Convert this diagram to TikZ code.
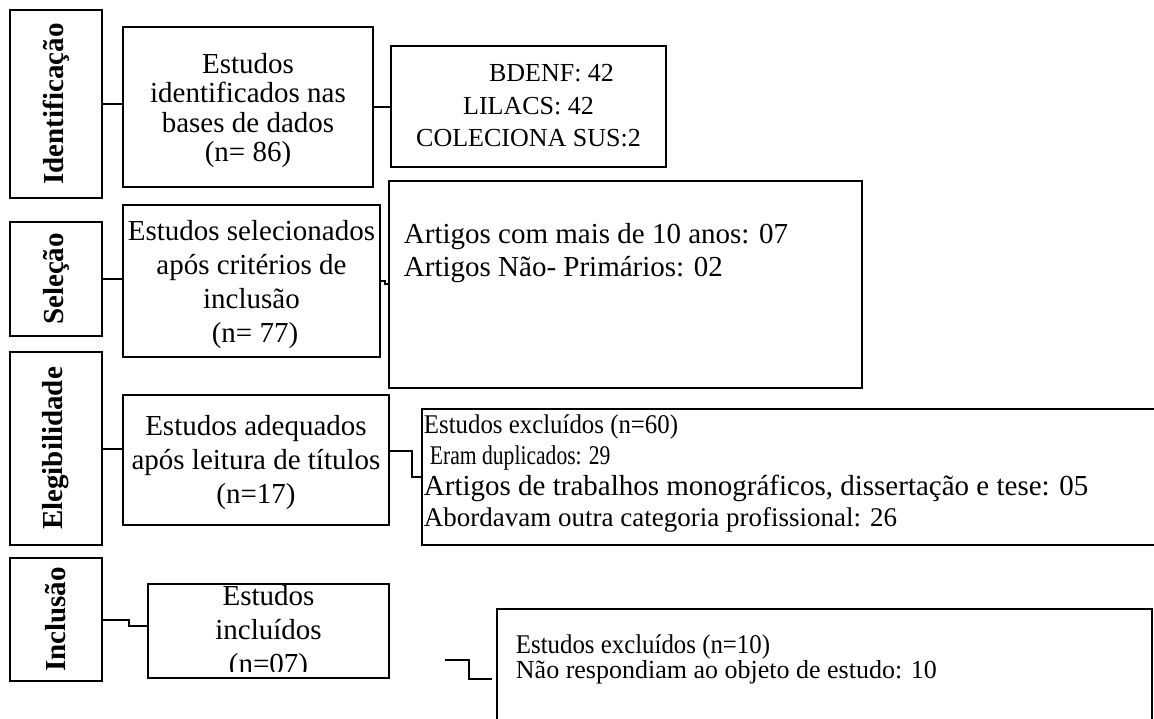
\documentclass[tikz,border=0pt]{standalone}
\usepackage{fontspec}
\setmainfont{Liberation Serif}
\newfontfamily\narrowserif[FakeStretch=0.92]{Liberation Serif}
\newfontfamily\tightserif[FakeStretch=0.8]{Liberation Serif}
\tikzset{
  stage/.style={draw, line width=2.5pt, rotate=90, minimum height=92pt, inner sep=0pt, font=\bfseries\fontsize{29}{32}\selectfont},
  stepbox/.style={draw, line width=2.5pt, inner sep=0pt, align=center, text depth=0pt, font=\fontsize{29}{34}\selectfont},
  listbox/.style={draw, line width=2.5pt, inner sep=0pt},
  listtext/.style={anchor=base west, inner sep=0pt, align=left}
}
\tikzstyle{link} = [line width=2pt]

\begin{document}
\begin{tikzpicture}[x=1pt,y=-1pt]
    \useasboundingbox (0,0) rectangle (1154,719);
    % fases
    \node [stage, minimum width=188pt] (stageI) at (56,104)   {Identificação};
    \node [stage, minimum width=114pt] (stageS) at (56,279)   {Seleção};
    \node [stage, minimum width=193pt] (stageE) at (56,448.5) {Elegibilidade};
    \node [stage, minimum width=123pt] (stageN) at (56,619.5) {Inclusão};
    % estudos
    \node [stepbox, minimum width=250pt, minimum height=160pt, text height=110pt, font=\fontsize{29}{29.5}\selectfont] (ident) at (248,107) {Estudos\\identificados nas\\bases de dados\\(n= 86)};
    \node [stepbox, minimum width=257pt, minimum height=152pt, text height=122pt] (sel) at (251.5,281) {Estudos selecionados\\após critérios de\\inclusão\\\hspace*{7pt}(n= 77)};
    \node [stepbox, minimum width=266pt, minimum height=130pt, text height=86pt] (adeq) at (256,460) {Estudos adequados\\após leitura de títulos\\(n=17)};
    \node [listbox, minimum width=241pt, minimum height=94pt] (incl) at (268.5,631) {};
    \begin{scope}
      \clip (148,585) rectangle (389,671);
      \node [stepbox, draw=none, text depth=, anchor=base] (incltext) at (268.5,673) {Estudos\\incluídos\\(n=07)};
    \end{scope}
    % bases e exclusoes
    \node [stepbox, minimum width=275pt, minimum height=121pt, text height=81pt, font=\fontsize{26}{32.5}\selectfont] (bases) at (528.5,106.5) {\hspace*{46pt}BDENF: 42\\LILACS: 42\\COLECIONA SUS:2};
    \node [listbox, minimum width=473pt, minimum height=207pt] (artigos) at (625.5,284.5) {};
    \node [listtext, font=\fontsize{29}{33}\selectfont] (artigostext) at ([xshift=16pt,yshift=-97pt]artigos.north west) {Artigos com mais de 10 anos: 07\\Artigos Não- Primários: 02};
    \node [listbox, minimum width=748pt, minimum height=136pt] (exc60) at (796,477) {};
    \node [listtext, font=\fontsize{27}{31}\selectfont] (exc60text) at ([xshift=3pt,yshift=-119pt]exc60.north west) {{\narrowserif Estudos excluídos (n=60)}\\{\tightserif\hspace*{6pt}Eram duplicados: 29}\\{\fontsize{29}{31}\selectfont Artigos de trabalhos monográficos, dissertação e tese: 05}\\Abordavam outra categoria profissional: 26};
    \node [listbox, minimum width=655pt, minimum height=131pt] (exc10) at (824.5,674.5) {};
    \node [listtext, font=\fontsize{26}{25}\selectfont] (exc10text) at ([xshift=20pt,yshift=-71pt]exc10.north west) {{\narrowserif\fontsize{27}{25}\selectfont Estudos excluídos (n=10)}\\Não respondiam ao objeto de estudo: 10};
    % ligacoes
    \draw [link] (stageI.south) -- (stageI.south -| ident.west);
    \draw [link] (ident.east) -- (ident.east -| bases.west);
    \draw [link] (stageS.south) -- (stageS.south -| sel.west);
    \draw [link] (sel.east) -- ++(4,0) |- (artigos.west);
    \draw [link] (stageE.south) -- (stageE.south -| adeq.west);
    \draw [link] ([yshift=9pt]adeq.east) -- ++(22,0) |- (exc60.west);
    \draw [link] (stageN.south) -- ++(26,0) |- ([yshift=5pt]incl.west);
    \coordinate (gapA) at (445,660);
    \coordinate (gapB) at (492,679);
    \draw [link] (gapA) -- ++(24,0) |- (gapB);
\end{tikzpicture}
\end{document}
